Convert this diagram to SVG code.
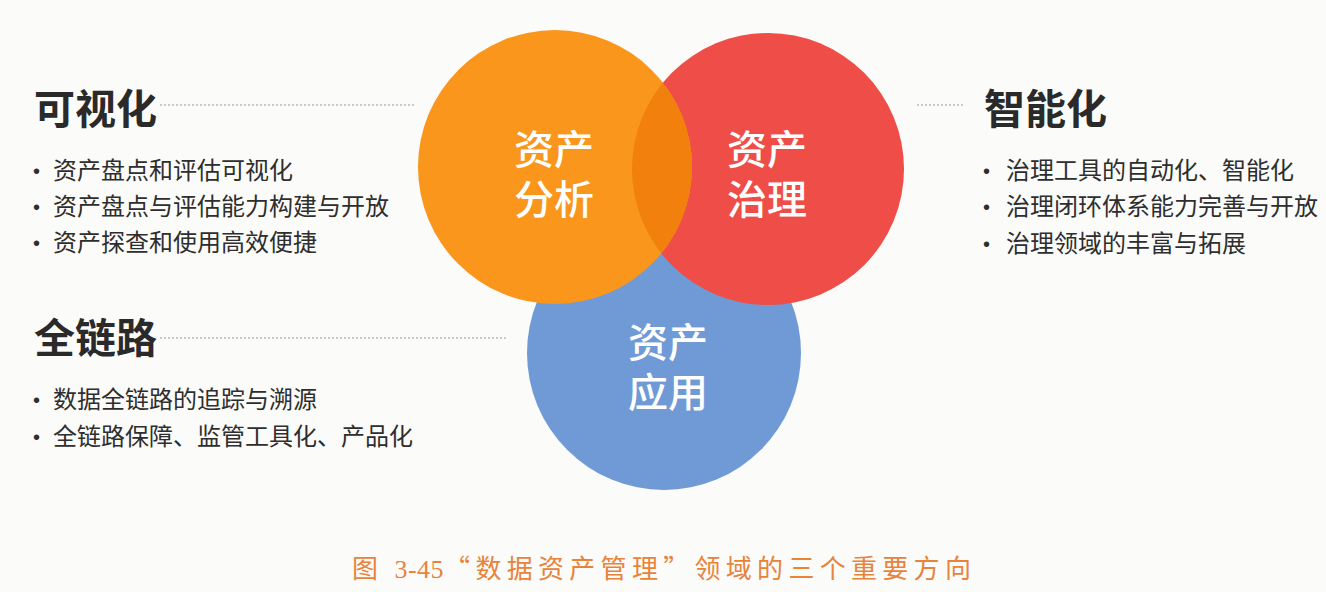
<svg xmlns="http://www.w3.org/2000/svg" width="1326" height="592" viewBox="0 0 1326 592">
<style>
.h{font-family:"Noto Sans CJK SC","Liberation Sans",sans-serif;font-weight:bold;font-size:41px;fill:#2a2a2a}
.b{font-family:"Noto Sans CJK SC","Liberation Sans",sans-serif;font-size:24px;fill:#2e2e2e}
.dot{font-family:"Liberation Sans",sans-serif;font-size:20px;fill:#2e2e2e}
.c{font-family:"Noto Sans CJK SC","Liberation Sans",sans-serif;font-size:40px;fill:#ffffff;text-anchor:middle;font-weight:500}
.d{stroke:#9a9a9a;stroke-width:1.2;stroke-dasharray:2 2;fill:none}
.cap{font-family:"Noto Sans CJK SC","Liberation Serif",serif;font-size:26px;fill:#e8833a;letter-spacing:5.3px}
.num{font-family:"Liberation Serif",serif;letter-spacing:0.5px}
</style>
<defs>
<clipPath id="redclip"><circle cx="768" cy="169" r="136"/></clipPath>
</defs>
<rect width="1326" height="592" fill="#fbfbfa"/>
<g id="connectors">
<line class="d" x1="160" y1="105" x2="416" y2="105"/>
<line class="d" x1="917" y1="105" x2="963" y2="105"/>
<line class="d" x1="160" y1="338" x2="506" y2="338"/>
</g>
<g id="node-app">
<circle cx="664" cy="353" r="137" fill="#6f9ad6"/>
<text class="c" x="668" y="357">资产<tspan x="668" dy="50">应用</tspan></text>
</g>
<g id="node-gov">
<circle cx="768" cy="169" r="136" fill="#ee4e47"/>
<text class="c" x="767" y="164">资产<tspan x="767" dy="50">治理</tspan></text>
</g>
<g id="node-ana">
<circle cx="555" cy="167" r="137" fill="#fa961c"/>
<circle cx="555" cy="167" r="137" fill="#f1800c" clip-path="url(#redclip)"/>
<text class="c" x="554" y="164">资产<tspan x="554" dy="50">分析</tspan></text>
</g>
<g id="visual">
<text class="h" x="34" y="124">可视化</text>
<text class="dot" x="33" y="178">•</text><text class="b" x="53" y="179">资产盘点和评估可视化</text>
<text class="dot" x="33" y="214">•</text><text class="b" x="53" y="215">资产盘点与评估能力构建与开放</text>
<text class="dot" x="33" y="250">•</text><text class="b" x="53" y="251">资产探查和使用高效便捷</text>
</g>
<g id="smart">
<text class="h" x="984" y="124">智能化</text>
<text class="dot" x="983" y="178">•</text><text class="b" x="1006" y="179">治理工具的自动化、智能化</text>
<text class="dot" x="983" y="214">•</text><text class="b" x="1006" y="215">治理闭环体系能力完善与开放</text>
<text class="dot" x="983" y="251">•</text><text class="b" x="1006" y="252">治理领域的丰富与拓展</text>
</g>
<g id="chain">
<text class="h" x="34" y="353">全链路</text>
<text class="dot" x="33" y="407">•</text><text class="b" x="53" y="408">数据全链路的追踪与溯源</text>
<text class="dot" x="33" y="444">•</text><text class="b" x="53" y="445">全链路保障、监管工具化、产品化</text>
</g>
<text class="cap" x="352" y="578">图 <tspan class="num">3-45</tspan>“数据资产管理”领域的三个重要方向</text>
</svg>
